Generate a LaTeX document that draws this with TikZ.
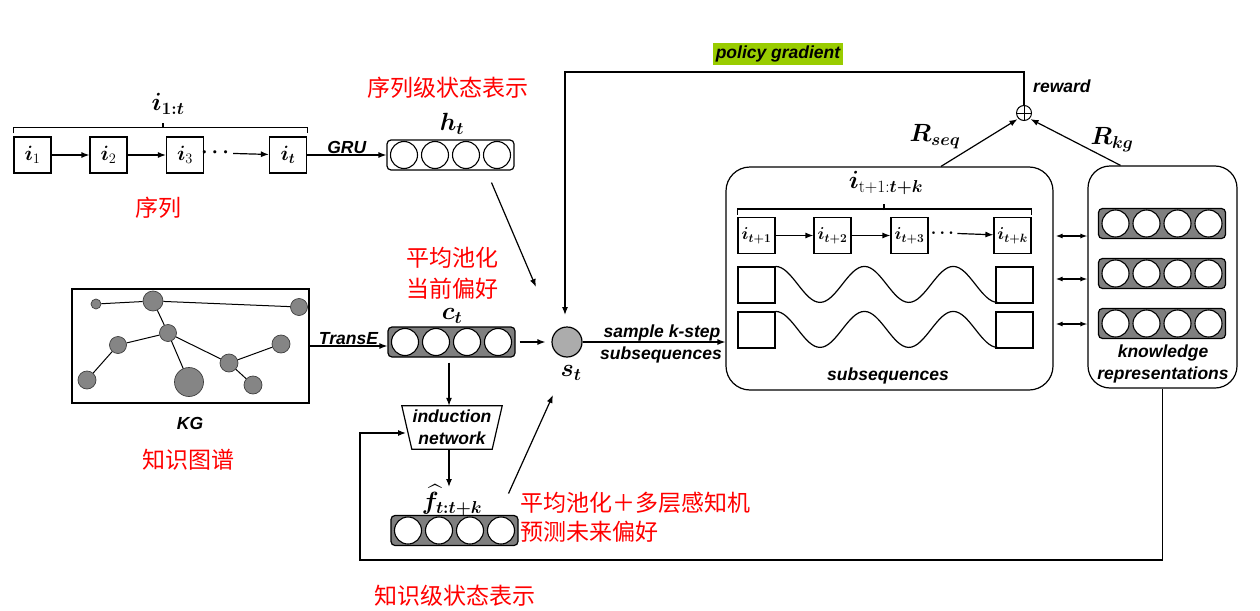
\documentclass[tikz,border=0pt]{standalone}
\usepackage[no-math]{fontspec}
\usepackage{amsmath,bm}
\setmainfont{Liberation Sans}
\newfontfamily\cjk{Noto Sans CJK SC}
\usetikzlibrary{arrows.meta,calc}
\definecolor{pggreen}{HTML}{99CC00}
\definecolor{vgray}{HTML}{7F7F7F}
\definecolor{kgray}{HTML}{858585}
\tikzset{
 arr/.style={-{Latex[length=8pt,width=6pt]}, line width=1.2pt},
 dbl/.style={{Latex[length=7pt,width=5pt]}-{Latex[length=7pt,width=5pt]}, line width=1.2pt},
 itembox/.style={draw, line width=1.2pt, minimum width=37pt, minimum height=36pt, inner sep=0pt, font=\fontsize{20}{20}\selectfont},
 itembox2/.style={itembox, font=\fontsize{18.5}{18.5}\selectfont},
 vecbox/.style={draw, line width=1.2pt, rounded corners=4pt, minimum width=127pt, minimum height=30pt, inner sep=0pt},
 lab/.style={font=\fontsize{17.5}{22}\selectfont\bfseries\itshape, inner sep=1pt, align=center},
 mlab/.style={font=\fontsize{26}{28}\selectfont, inner sep=0pt},
 cntext/.style={text=red, font=\cjk\fontsize{23}{27}\selectfont, inner sep=0pt},
 kgn/.style={circle, draw=black!75, fill=kgray, inner sep=0pt, line width=0.7pt},
 bigbox/.style={draw, line width=1.2pt, inner sep=0pt},
 thin/.style={line width=1.2pt},
}
\newcommand\vrow[4]{%
 \node[vecbox, fill=#4] (#1) at (#2,#3) {};
 \foreach \dx in {-46.5,-15.5,15.5,46.5}{\draw[line width=1.1pt, fill=white] ([xshift=\dx pt]#1.center) circle (13.5pt);}
}
\begin{document}
\begin{tikzpicture}[x=1pt,y=-1pt]
\useasboundingbox (0,0) rectangle (1260,610);

% ---------- top sequence ----------
\node[itembox] (a1) at (32.5,155) {$\bm{i}_1$};
\node[itembox] (a2) at (108.5,155) {$\bm{i}_2$};
\node[itembox] (a3) at (185,155) {$\bm{i}_3$};
\node[itembox] (a4) at (288,155) {$\bm{i}_{\bm{t}}$};
\node[inner sep=0pt, font=\fontsize{22}{22}\selectfont] (ad) at (217,153) {$\bm{\cdots}$};
\draw[arr] (a1) -- (a2);
\draw[arr] (a2) -- (a3);
\draw[arr] (ad) -- (a4);
\draw[thin] ([yshift=3pt]a1.north west) -- ([yshift=9pt]a1.north west) -- ([yshift=9pt]a4.north east) -- ([yshift=3pt]a4.north east);
\draw[thin] (163,128) -- (163,123);
\node[mlab] (l1t) at (168,104) {$\bm{i}_{\bm{1:t}}$};
\node[cntext] at (158,208) {序列};

% ---------- h_t ----------
\vrow{h}{450.5}{155}{white}
\node[mlab] (hl) at (452,124) {$\bm{h}_{\bm{t}}$};
\node[cntext] at (448,88) {序列级状态表示};
\draw[arr] (a4.east) -- (h.west) node[midway, above, lab] {GRU};

% ---------- KG ----------
\node[bigbox, minimum width=237pt, minimum height=114pt] (kg) at (190.5,346) {};
\node[kgn, minimum size=10pt] (k1) at (96,304) {};
\node[kgn, minimum size=20pt] (k2) at (153,301) {};
\node[kgn, minimum size=17pt] (k3) at (299,307) {};
\node[kgn, minimum size=17pt] (k4) at (168,333) {};
\node[kgn, minimum size=17pt] (k5) at (118,345) {};
\node[kgn, minimum size=18pt] (k6) at (87,380) {};
\node[kgn, minimum size=29pt] (k7) at (189,382) {};
\node[kgn, minimum size=18pt] (k8) at (229,363) {};
\node[kgn, minimum size=18pt] (k9) at (281,344) {};
\node[kgn, minimum size=18pt] (k10) at (253,385) {};
\draw[line width=1pt] (k1)--(k2) (k2)--(k3) (k2)--(k4) (k4)--(k5) (k5)--(k6) (k4)--(k7) (k4)--(k8) (k8)--(k9) (k8)--(k10);
\node[lab] at (190,423) {KG};
\node[cntext] at (188,460) {知识图谱};

% ---------- c_t ----------
\vrow{c}{451.5}{342}{vgray}
\node[mlab] at (452,316) {$\bm{c}_{\bm{t}}$};
\node[cntext] at (452,258) {平均池化};
\node[cntext] at (452,289) {当前偏好};
\draw[arr] (kg.east) -- (c.west |- kg.east) node[midway, above, lab] {TransE};

% ---------- s_t ----------
\node[circle, draw, line width=1.2pt, fill=gray!65, minimum size=30pt, inner sep=0pt] (st) at (567,342) {};
\node[mlab] (stl) at (571,373) {$\bm{s}_{\bm{t}}$};
\draw[arr, shorten >=6pt] ([xshift=4pt]c.east) -- (st.west);
\draw[arr] ([xshift=41pt,yshift=-12pt]h.south) -- ($(st)+(-31,-55)$);

% ---------- reward / policy gradient ----------
\node[lab, fill=pggreen, inner sep=2.5pt] (pg) at (778,54) {policy gradient};
\node[circle, draw, line width=1pt, minimum size=15pt, inner sep=0pt] (op) at (1024,113) {};
\draw[line width=1pt] (op.north) -- (op.south) (op.west) -- (op.east);
\coordinate (pgc) at (565,72);
\draw[arr] (op.north) |- (pgc) -- ($(st)+(-2,-27)$);
\node[lab, anchor=west] at (1032,86) {reward};

% ---------- subsequences ----------
\node[bigbox, rounded corners=24pt, minimum width=327pt, minimum height=223pt] (sub) at (889.5,278.5) {};
\draw[arr] (st.east) -- (sub.west |- st.east);
\node[lab] at (662,333) {sample k-step};
\node[lab] at (661,355) {subsequences};

\node[itembox2] (b1) at (756.5,235.5) {$\bm{i}_{\bm{t+1}}$};
\node[itembox2] (b2) at (832.5,235.5) {$\bm{i}_{\bm{t+2}}$};
\node[itembox2] (b3) at (909.5,235.5) {$\bm{i}_{\bm{t+3}}$};
\node[itembox2] (b4) at (1012.5,235.5) {$\bm{i}_{\bm{t+k}}$};
\node[inner sep=0pt, font=\fontsize{18}{18}\selectfont] (bd) at (944,233) {$\bm{\cdots}$};
\draw[arr] (b1) -- (b2);
\draw[arr] (b2) -- (b3);
\draw[arr] (bd) -- (b4);
\draw[thin] ([yshift=2pt]b1.north west) -- ([yshift=8pt]b1.north west) -- ([yshift=8pt]b4.north east) -- ([yshift=2pt]b4.north east);
\draw[thin] (884,210) -- (884,204);
\node[mlab] at (886,183) {$\bm{i}_{\mathrm{t+1}:\bm{t+k}}$};

\node[itembox] (p1) at (756.5,285) {};
\node[itembox] (p2) at (1014.5,285) {};
\node[itembox] (q1) at (756.5,330) {};
\node[itembox] (q2) at (1014.5,330) {};
\draw[thin] (p1.north east) cos ++(22.2,18) sin ++(22.2,18) cos ++(22.2,-18) sin ++(22.2,-18) cos ++(22.2,18) sin ++(22.2,18) cos ++(22.2,-18) sin ++(22.2,-18) cos ++(22.2,18) sin ++(22.2,18);
\draw[thin] (q1.north east) cos ++(22.2,18) sin ++(22.2,18) cos ++(22.2,-18) sin ++(22.2,-18) cos ++(22.2,18) sin ++(22.2,18) cos ++(22.2,-18) sin ++(22.2,-18) cos ++(22.2,18) sin ++(22.2,18);
\node[lab] at (888,376) {subsequences};

% ---------- knowledge representations ----------
\node[bigbox, rounded corners=22pt, minimum width=149pt, minimum height=222pt] (kr) at (1162.5,277) {};
\vrow{r1}{1162}{223.5}{vgray}
\vrow{r2}{1162}{273.5}{vgray}
\vrow{r3}{1162}{323.5}{vgray}
\node[lab] at (1163,353) {knowledge};
\node[lab] at (1163,375) {representations};
\draw[dbl] ([xshift=2pt]sub.east |- 0,236) -- (kr.west |- 0,236);
\draw[dbl] ([xshift=2pt]sub.east |- 0,279) -- (kr.west |- 0,279);
\draw[dbl] ([xshift=2pt]sub.east |- 0,324) -- (kr.west |- 0,324);

% ---------- rewards ----------
\draw[arr, shorten >=1pt] ([xshift=51.5pt]sub.north) -- (op.south west);
\node[mlab] at (935,137) {$\bm{R}_{\bm{seq}}$};
\draw[arr, shorten >=1pt] ([xshift=-42pt]kr.north) -- (op.south east);
\node[mlab] at (1112,140) {$\bm{R}_{\bm{kg}}$};

% ---------- induction network ----------
\node[lab, minimum width=100pt, minimum height=43pt, inner sep=0pt] (ind) at (452,427.5) {induction\\network};
\draw[thin] (ind.north west) -- (ind.north east) -- ([xshift=-10pt]ind.south east) -- ([xshift=10pt]ind.south west) -- cycle;
\draw[arr] ([xshift=-2.5pt,yshift=-5pt]c.south) -- ([xshift=-3pt]ind.north);
\node[mlab] (fl) at (452,500) {$\widehat{\bm{f}}_{\bm{t:t+k}}$};
\coordinate (flt) at (449,487);
\draw[arr] ([xshift=-3pt]ind.south) -- (flt);
\vrow{f}{454.5}{530.5}{vgray}
\draw[arr] ($(f)+(54,-37)$) -- ($(st)+(-14,53)$);
\node[cntext, anchor=west] at (520,503) {平均池化＋多层感知机};
\node[cntext, anchor=west] at (520,532) {预测未来偏好};
\node[cntext] at (455,596) {知识级状态表示};

% ---------- feedback ----------
\coordinate (fb) at (360,560);
\coordinate (indin) at (406,433);
\draw[arr] (kr.south) |- (fb) |- (indin);
\end{tikzpicture}
\end{document}
